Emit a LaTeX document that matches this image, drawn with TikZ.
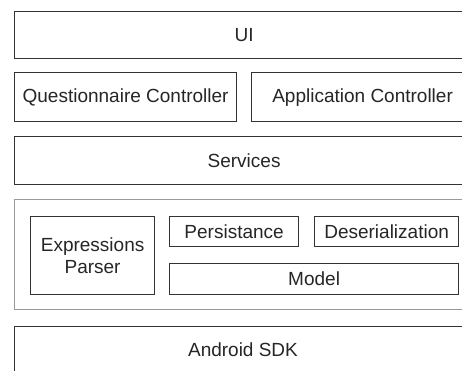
\documentclass[tikz,border=0pt]{standalone}
\usepackage{fontspec}
\setmainfont{Liberation Sans}
\begin{document}
\begin{tikzpicture}[x=1pt,y=-1pt,
  box/.style={draw=black!80, line width=1.2pt, rectangle, inner sep=0pt, align=center,
    font=\fontsize{19}{21.5}\selectfont, text=black!85},
  group/.style={draw=black!40, line width=1.2pt, rectangle, inner sep=0pt}]
\useasboundingbox (0,0) rectangle (462,370);
\clip (0,0) rectangle (462,370);
\fill[white] (0,0) rectangle (462,370);
% group container
\node[group, minimum width=459pt, minimum height=110pt, anchor=north west] (core) at (14,199) {};
\node[box, minimum width=459pt, minimum height=47pt, anchor=north west] (ui) at (14,11) {UI};
\node[box, minimum width=222pt, minimum height=49pt, anchor=north west] (qc) at (14,72) {Questionnaire Controller};
\node[box, minimum width=222pt, minimum height=49pt, anchor=north west] (ac) at (251,72) {Application Controller};
\node[box, minimum width=459pt, minimum height=48pt, anchor=north west] (srv) at (14,136) {Services};
\node[box, minimum width=124pt, minimum height=78pt, anchor=north west] (ep) at (30,216) {Expressions\\Parser};
\node[box, minimum width=129pt, minimum height=30pt, anchor=north west] (pers) at (169,216) {Persistance};
\node[box, minimum width=144pt, minimum height=30pt, anchor=north west] (des) at (314,216) {Deserialization};
\node[box, minimum width=289pt, minimum height=31pt, anchor=north west] (model) at (169,263) {Model};
\node[box, minimum width=459pt, minimum height=60pt, anchor=north west] (sdk) at (14,326) {};
\node[font=\fontsize{19}{21.5}\selectfont, text=black!85] (sdklabel) at (243,350) {Android SDK};
\end{tikzpicture}
\end{document}
